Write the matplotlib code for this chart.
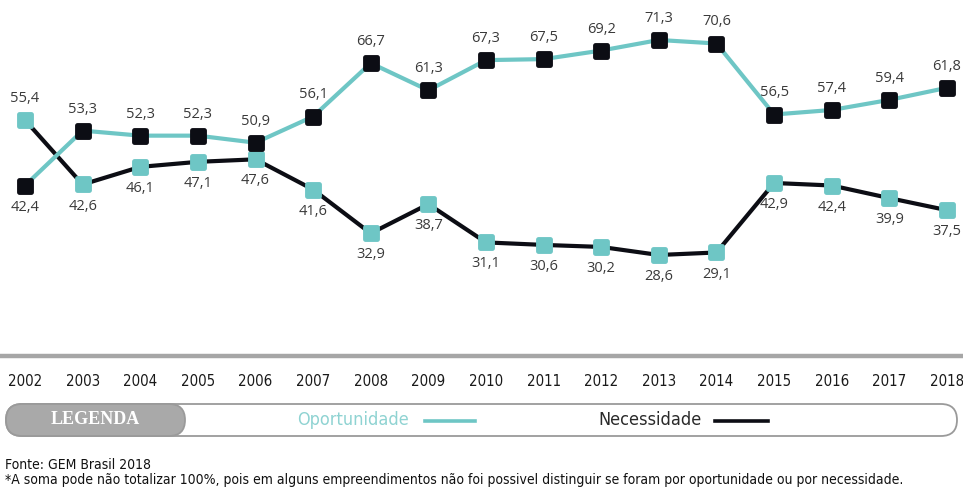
import matplotlib
matplotlib.use("Agg")
import matplotlib.pyplot as plt
from matplotlib.markers import MarkerStyle
from matplotlib.patches import FancyBboxPatch
from matplotlib.lines import Line2D

years = [2002, 2003, 2004, 2005, 2006, 2007, 2008, 2009, 2010,
         2011, 2012, 2013, 2014, 2015, 2016, 2017, 2018]
oportunidade = [42.4, 53.3, 52.3, 52.3, 50.9, 56.1, 66.7, 61.3, 67.3,
                67.5, 69.2, 71.3, 70.6, 56.5, 57.4, 59.4, 61.8]
necessidade = [55.4, 42.6, 46.1, 47.1, 47.6, 41.6, 32.9, 38.7, 31.1,
               30.6, 30.2, 28.6, 29.1, 42.9, 42.4, 39.9, 37.5]
legend_labels = ["Oportunidade", "Necessidade"]
legend_title = "LEGENDA"
source_text = "Fonte: GEM Brasil 2018"
note_text = ("*A soma pode não totalizar 100%, pois em alguns empreendimentos não foi possivel "
             "distinguir se foram por oportunidade ou por necessidade.")

TEAL = "#6ec6c5"
DARK = "#0c0d14"
LABEL = "#3a3a3a"
W, H = 963, 488
NARROW = dict(family=["DejaVu Sans"], fontstretch="condensed")

fig = plt.figure(figsize=(W / 100, H / 100), dpi=100)
fig.patch.set_facecolor("white")

ax_bottom = (H - 356) / H
ax = fig.add_axes([0, ax_bottom, 1, 1 - ax_bottom])
ax.set_xlim(2001.566, 2018.278)
ax.set_ylim(8.54, 79.24)
for s in ["top", "right", "left"]:
    ax.spines[s].set_visible(False)
ax.spines["bottom"].set_color("#a6a6a6")
ax.spines["bottom"].set_linewidth(3.2)
ax.set_yticks([])
ax.set_xticks(years)
ax.set_xticklabels([str(y) for y in years], fontsize=10.8, color="#1a1a1a", **NARROW)
ax.tick_params(axis="x", length=0, pad=13)
ax.patch.set_alpha(0)

mk = MarkerStyle("s", joinstyle="round")
ax.plot(years, necessidade, color=DARK, lw=3.0, solid_capstyle="round", zorder=2,
        marker=mk, ms=8.5, mfc=TEAL, mec=TEAL, mew=3.5)
ax.plot(years, oportunidade, color=TEAL, lw=3.0, solid_capstyle="round", zorder=3,
        marker=mk, ms=8.5, mfc=DARK, mec=DARK, mew=3.5)

for x, o, n in zip(years, oportunidade, necessidade):
    for v, other in ((o, n), (n, o)):
        above = v >= other
        ax.annotate(f"{v:.1f}".replace(".", ","), (x, v),
                    xytext=(0, 15.5 if above else -15.5), textcoords="offset points",
                    ha="center", va="center", fontsize=10.5, color=LABEL,
                    family=["Open Sans", "DejaVu Sans"], zorder=5)

ov = fig.add_axes([0, 0, 1, 1])
ov.set_xlim(0, W)
ov.set_ylim(H, 0)
ov.axis("off")
ov.patch.set_alpha(0)

frame = FancyBboxPatch((6, 404), 951, 32, boxstyle="round,pad=0,rounding_size=16",
                       fc="white", ec="#9a9a9a", lw=1.3, zorder=1)
ov.add_patch(frame)
left = FancyBboxPatch((6, 404), 179, 32, boxstyle="round,pad=0,rounding_size=16",
                      fc="#a9a9a9", ec="#9a9a9a", lw=1.3, zorder=2)
ov.add_patch(left)

ov.text(95, 420, legend_title, ha="center", va="center", color="white",
        family=["Liberation Serif", "DejaVu Serif"], fontweight="bold", fontsize=13, zorder=3)
ov.text(353, 420, legend_labels[0], ha="center", va="center", color="#8fd3d2",
        fontsize=13, zorder=3, **NARROW)
ov.add_line(Line2D([425, 475], [421, 421], color=TEAL, lw=2.6, zorder=3))
ov.text(650, 420, legend_labels[1], ha="center", va="center", color="#2a2a2a",
        fontsize=13, zorder=3, **NARROW)
ov.add_line(Line2D([715, 768], [421, 421], color=DARK, lw=2.6, zorder=3))

ov.text(5, 465, source_text, ha="left", va="center", color="#111111",
        fontsize=10, **NARROW)
ov.text(5, 480, note_text, ha="left", va="center", color="#111111",
        fontsize=10, **NARROW)

fig.savefig("out.png", dpi=100, facecolor="white")
